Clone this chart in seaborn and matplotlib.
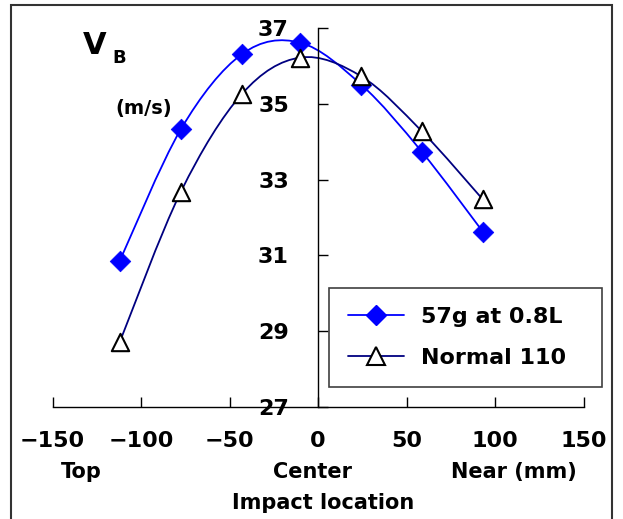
import numpy as np
import seaborn as sns
import matplotlib
matplotlib.use("Agg")
import matplotlib.pyplot as plt
from matplotlib.path import Path
from matplotlib.patches import PathPatch, Rectangle
from matplotlib.lines import Line2D

# Data
location = [-112, -77.5, -43, -10, 24.5, 58.5, 93]
vb_57g = [30.86, 34.33, 36.31, 36.61, 35.50, 33.74, 31.63]
vb_normal = [28.72, 32.68, 35.26, 36.22, 35.72, 34.28, 32.48]
series_names = ["57g at 0.8L", "Normal 110"]
x_ticks = [-150, -100, -50, 0, 50, 100, 150]
y_ticks = [27, 29, 31, 33, 35, 37]

sns.set_style("white")
plt.rcParams["font.family"] = ["DejaVu Sans"]
plt.rcParams["font.weight"] = "bold"
plt.rcParams["text.color"] = "black"


def smooth_path(xs, ys):
    # Excel-like smoothed line: Catmull-Rom segments as cubic Beziers
    pts = np.column_stack([xs, ys]).astype(float)
    n = len(pts)
    verts = [pts[0]]
    codes = [Path.MOVETO]
    for i in range(n - 1):
        p0 = pts[i - 1] if i > 0 else pts[i]
        p1, p2 = pts[i], pts[i + 1]
        p3 = pts[i + 2] if i + 2 < n else pts[i + 1]
        verts += [p1 + (p2 - p0) / 6, p2 - (p3 - p1) / 6, p2]
        codes += [Path.CURVE4] * 3
    return Path(verts, codes)


fig = plt.figure(figsize=(6.23, 5.19), dpi=100)
ax = fig.add_axes([0.0844, 0.2158, 0.8523, 0.7303])

blue = "#0000FF"
navy = "#000080"

ax.add_patch(PathPatch(smooth_path(location, vb_57g), fill=False,
                       edgecolor=blue, lw=1.3, zorder=2))
ax.add_patch(PathPatch(smooth_path(location, vb_normal), fill=False,
                       edgecolor=navy, lw=1.3, zorder=2))

sns.scatterplot(x=location, y=vb_57g, marker="D", s=10.5 ** 2, color=blue,
                edgecolor=blue, linewidth=0.5, ax=ax, zorder=3)
sns.scatterplot(x=location, y=vb_normal, marker="^", s=12.5 ** 2,
                facecolor="white", edgecolor="black", linewidth=1.5,
                ax=ax, zorder=4)

ax.set_xlim(-150, 150)
ax.set_ylim(27, 37)
ax.set_xticks(x_ticks)
ax.set_yticks(y_ticks)
ax.spines["left"].set_position(("data", 0))
ax.spines["top"].set_visible(False)
ax.spines["right"].set_visible(False)
for s in ["left", "bottom"]:
    ax.spines[s].set_color("black")
    ax.spines[s].set_linewidth(1.0)
ax.tick_params(axis="x", bottom=True, direction="in", length=7, width=1,
               pad=17, labelsize=16, colors="black")
ax.tick_params(axis="y", left=True, direction="in", length=7, width=1,
               pad=21, labelsize=16, colors="black")
for lab in ax.get_xticklabels() + ax.get_yticklabels():
    lab.set_fontweight("bold")
ax.set_xlabel("")
ax.set_ylabel("")

handles = [
    Line2D([], [], color=blue, lw=1.3, marker="D", markersize=10.5,
           markerfacecolor=blue, markeredgecolor=blue),
    Line2D([], [], color=navy, lw=1.3, marker="^", markersize=12.5,
           markerfacecolor="white", markeredgecolor="black",
           markeredgewidth=1.5),
]
leg = ax.legend(handles, series_names, loc="lower left",
                bbox_to_anchor=(0.5205, 0.0528, 0.514, 0.264), mode="expand",
                frameon=True, fancybox=False, framealpha=1, edgecolor="#404040",
                prop={"size": 16, "weight": "bold"}, handlelength=2.5,
                handletextpad=0.8, labelspacing=0.95, borderpad=0.86,
                borderaxespad=0)
leg.get_frame().set_linewidth(1.2)
for t in leg.get_texts():
    t.set_color("black")

fig.text(0.1332, 0.9114, "V", fontsize=22, fontweight="bold",
         ha="left", va="center")
fig.text(0.1798, 0.8882, "B", fontsize=13, fontweight="bold",
         ha="left", va="center")
fig.text(0.2311, 0.790, "(m/s)", fontsize=14, fontweight="bold",
         ha="center", va="center")

fig.text(0.130, 0.0906, "Top", fontsize=15, fontweight="bold",
         ha="center", va="center")
fig.text(0.5024, 0.0906, "Center", fontsize=15, fontweight="bold",
         ha="center", va="center")
fig.text(0.825, 0.0906, "Near (mm)", fontsize=15, fontweight="bold",
         ha="center", va="center")
fig.text(0.518, 0.0308, "Impact location", fontsize=15, fontweight="bold",
         ha="center", va="center")

fig.patches.append(Rectangle((11 / 623, -0.2), 601 / 623, 1.2 - 5 / 519,
                             transform=fig.transFigure, fill=False,
                             edgecolor="#333333", lw=1.5))

fig.savefig("out.png", dpi=100)
